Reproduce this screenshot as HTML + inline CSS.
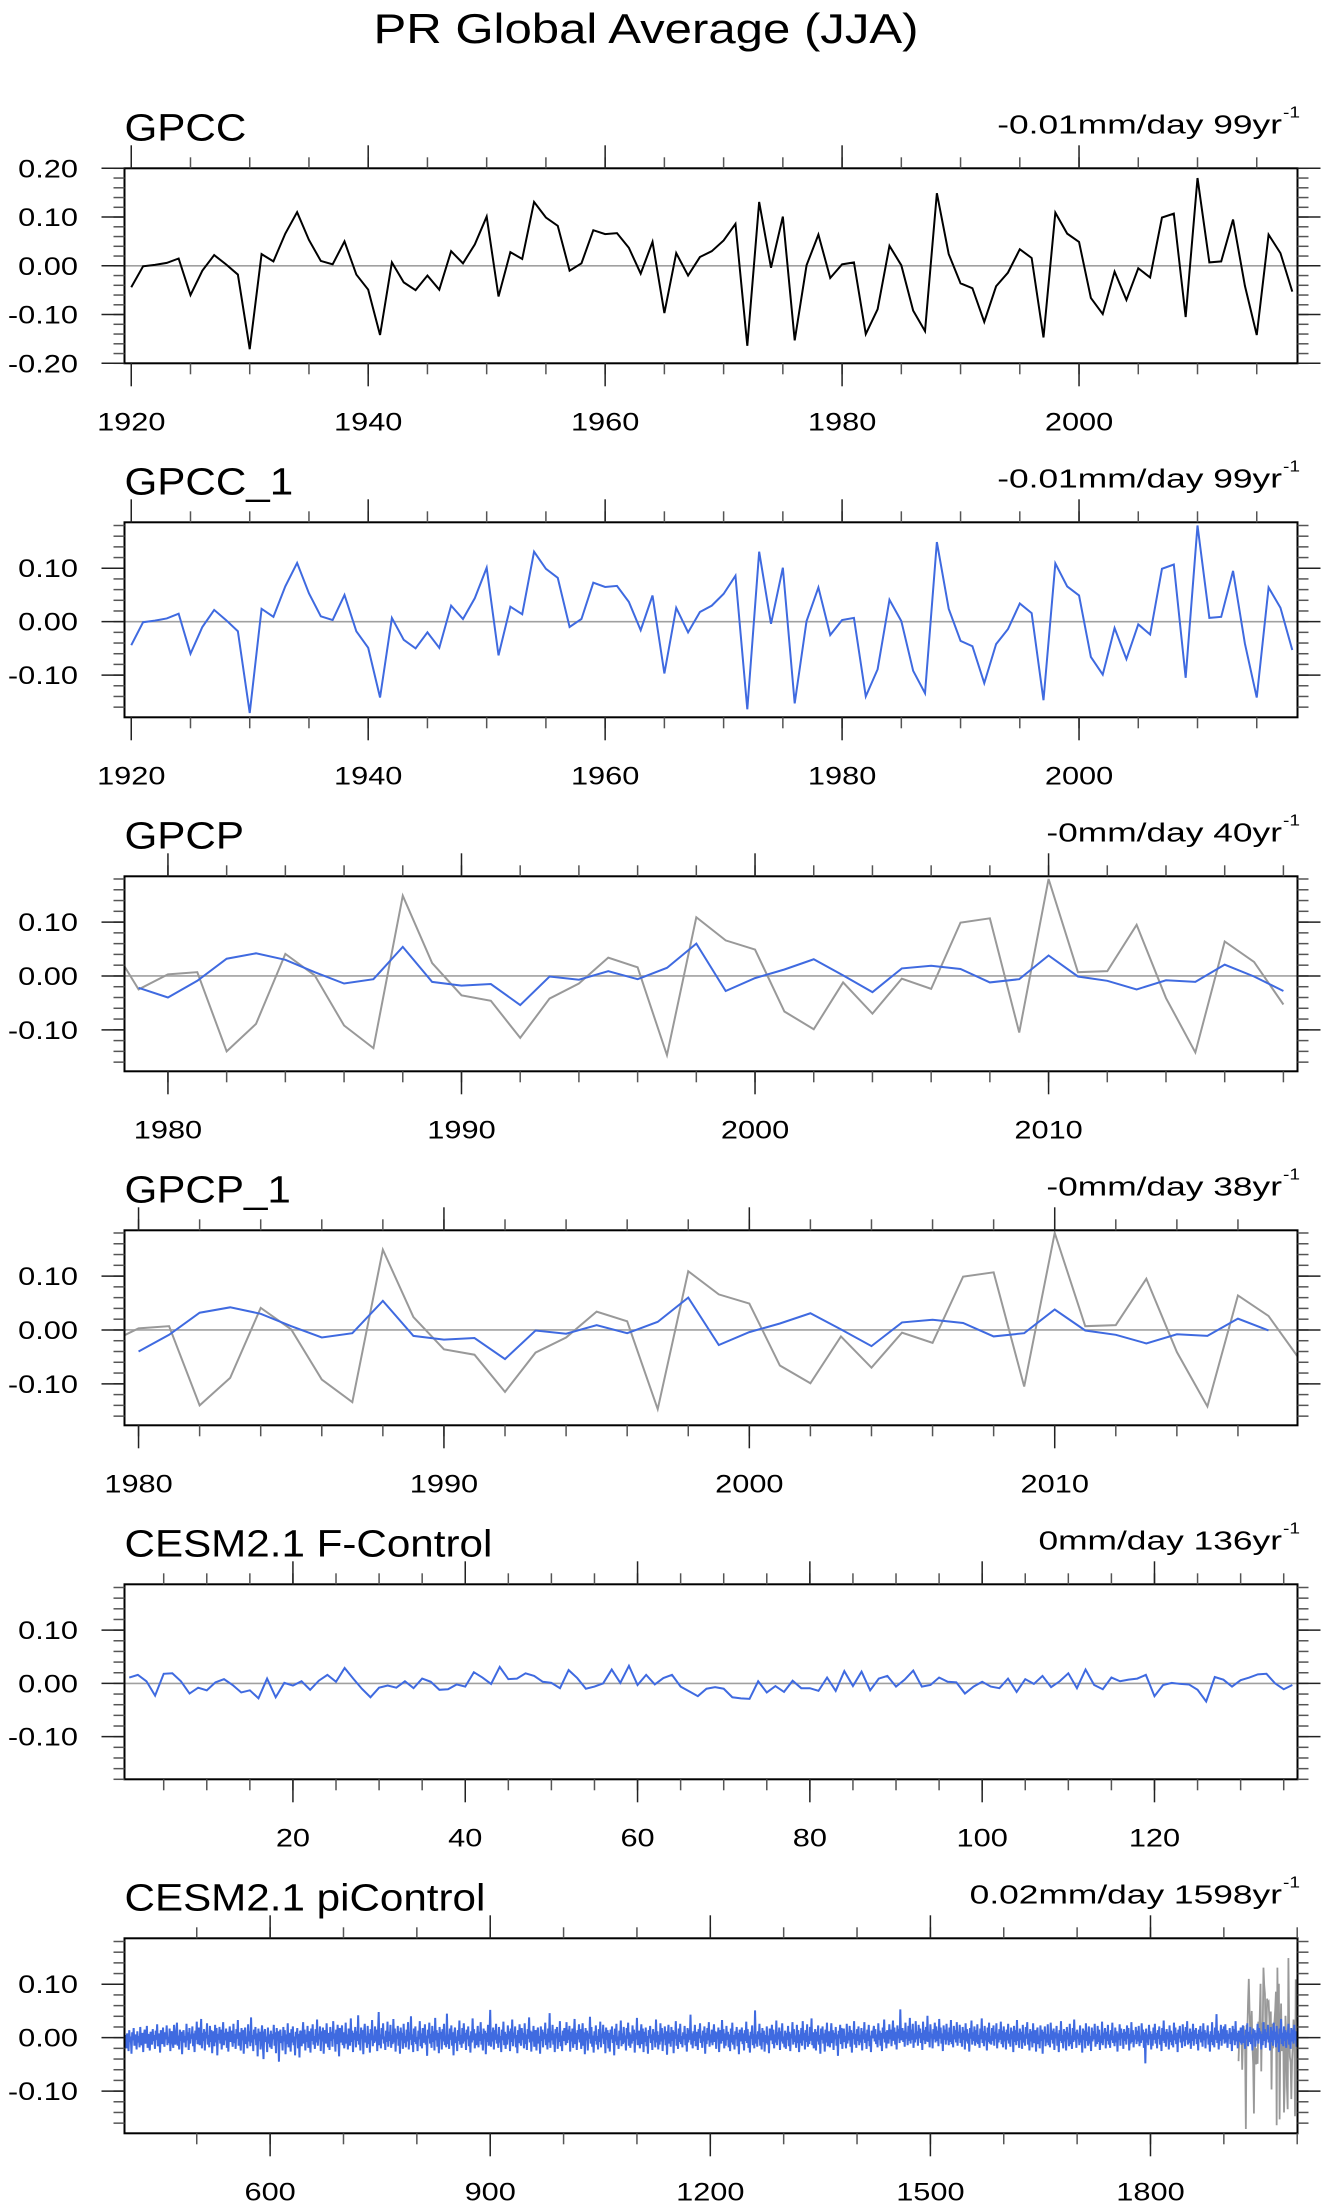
<!DOCTYPE html>
<html><head><meta charset="utf-8"><title>PR Global Average (JJA)</title>
<style>html,body{margin:0;padding:0;background:#fff}svg{display:block}text{font-family:"Liberation Sans",Arial,sans-serif;fill:#000}</style>
</head><body>
<svg id="chart" width="1330" height="2212" viewBox="0 0 1330 2212" xmlns="http://www.w3.org/2000/svg">
<rect x="0" y="0" width="1330" height="2212" fill="#fff"/>
<text transform="translate(646,43) scale(1.17,1)" text-anchor="middle" font-size="42">PR Global Average (JJA)</text>
</svg>
<script>
// ---- data ----
const gpccStartYear = 1920;
const gpccValues = [-0.044,-0.001,0.002,0.006,0.015,-0.060,-0.010,0.022,0.003,-0.018,
-0.171,0.024,0.009,0.066,0.110,0.053,0.010,0.003,0.050,-0.018,
-0.049,-0.142,0.007,-0.034,-0.050,-0.020,-0.049,0.030,0.005,0.044,
0.101,-0.063,0.028,0.014,0.131,0.099,0.082,-0.010,0.005,0.073,
0.065,0.067,0.037,-0.016,0.049,-0.097,0.026,-0.020,0.018,0.030,
0.052,0.086,-0.164,0.131,-0.004,0.101,-0.153,0.001,0.064,-0.025,
0.003,0.007,-0.140,-0.089,0.041,0.001,-0.092,-0.134,0.149,0.024,
-0.036,-0.046,-0.115,-0.042,-0.014,0.034,0.016,-0.147,0.109,0.066,
0.049,-0.066,-0.099,-0.012,-0.070,-0.005,-0.024,0.099,0.107,-0.105,
0.180,0.007,0.009,0.095,-0.041,-0.142,0.064,0.026,-0.053];
const gpcpStartYear = 1979;
const gpcpValues = [-0.022,-0.040,-0.009,0.032,0.042,0.030,0.007,-0.014,-0.006,0.054,
-0.011,-0.018,-0.015,-0.054,-0.001,-0.007,0.009,-0.006,0.015,0.060,
-0.028,-0.004,0.012,0.031,0.001,-0.030,0.014,0.019,0.013,-0.012,
-0.006,0.038,-0.001,-0.009,-0.025,-0.008,-0.011,0.021,-0.001,-0.028];
const gpcp1StartYear = 1980;
const gpcp1Values = [-0.040,-0.009,0.032,0.042,0.030,0.007,-0.014,-0.006,0.054,
-0.011,-0.018,-0.015,-0.054,-0.001,-0.007,0.009,-0.006,0.015,0.060,
-0.028,-0.004,0.012,0.031,0.001,-0.030,0.014,0.019,0.013,-0.012,
-0.006,0.038,-0.001,-0.009,-0.025,-0.008,-0.011,0.021,-0.001];
const fcontrolStartYear = 1;
const fcontrolValues = [0.011,0.016,0.004,-0.023,0.018,0.019,0.004,-0.019,-0.008,-0.013,
0.002,0.008,-0.003,-0.017,-0.013,-0.028,0.009,-0.026,0.001,-0.004,
0.004,-0.012,0.005,0.016,0.003,0.029,0.009,-0.010,-0.026,-0.008,
-0.004,-0.008,0.004,-0.009,0.009,0.003,-0.012,-0.011,-0.002,-0.006,
0.021,0.011,-0.001,0.031,0.008,0.009,0.019,0.014,0.003,0.001,
-0.009,0.025,0.010,-0.010,-0.006,0.000,0.026,0.001,0.033,-0.003,
0.016,-0.002,0.010,0.016,-0.006,-0.015,-0.024,-0.010,-0.007,-0.010,
-0.026,-0.028,-0.029,0.004,-0.017,-0.005,-0.016,0.005,-0.009,-0.009,
-0.014,0.011,-0.014,0.023,-0.005,0.022,-0.013,0.009,0.014,-0.006,
0.007,0.024,-0.006,-0.003,0.011,0.003,0.002,-0.019,-0.006,0.003,
-0.006,-0.009,0.009,-0.016,0.008,-0.001,0.014,-0.007,0.004,0.019,
-0.009,0.026,-0.003,-0.011,0.011,0.004,0.007,0.009,0.016,-0.024,
-0.003,0.001,-0.001,-0.002,-0.012,-0.034,0.012,0.007,-0.006,0.006,
0.011,0.017,0.018,0.000,-0.011,-0.003];
const picontrolStartYear = 402;
// values in 0.001 mm/day
const picontrolMilli = [
-12,5,-20,8,-3,-25,14,-8,2,-30,10,-5,18,-15,-2,6,-22,12,-9,3,
-18,20,-6,-14,9,-27,4,15,-11,-3,22,-19,7,-8,-24,11,0,-13,16,-6,
5,-21,13,-4,25,-16,-9,8,-28,14,2,-12,19,-7,-17,10,-3,23,-14,1,
-10,17,-25,6,12,-8,-19,24,-2,-13,9,28,-15,4,-22,15,-6,11,-31,7,
14,-9,3,-18,26,-5,10,-23,18,-11,6,-2,21,-16,8,-27,13,-4,30,-12,
-7,19,-14,2,35,-20,9,-6,16,-24,11,-1,27,-13,5,-18,22,-8,14,-29,
3,12,-16,24,-9,18,-33,7,-4,20,-11,15,-22,6,29,-14,9,-5,17,-19,
11,-26,4,21,-8,13,-3,-17,26,-10,7,-21,16,-2,33,-15,10,-6,-24,18,
-5,14,-30,9,19,-12,2,-20,25,-7,12,-16,38,-9,5,-25,15,-3,20,-14,
8,-35,17,-6,11,-22,4,23,-13,-40,9,16,-8,2,-27,19,-11,6,-18,13,
-21,7,-3,24,-15,10,-29,18,-5,12,-45,8,15,-10,3,-24,20,-7,14,-31,
6,-12,27,-18,9,-4,-26,16,-9,21,-14,2,-33,11,-1,18,-20,7,-37,13,
10,-16,4,29,-11,15,-24,6,-8,22,-19,12,-2,-28,17,-6,25,-13,3,-21,
16,-9,34,-15,7,-3,21,-25,12,-7,19,-30,5,14,-11,27,-4,-18,9,-23,
20,-6,11,-17,31,-2,8,-26,15,-12,24,-5,-35,18,-9,4,23,-14,10,-20,
-3,28,-11,6,-22,17,1,-15,36,-8,13,-27,9,-4,20,-18,12,-6,42,-13,
7,-24,19,-2,14,-31,10,26,-9,3,-19,22,-12,8,-28,16,-5,33,-16,4,
-10,21,-7,15,-25,9,48,-14,6,-20,18,-3,27,-11,2,-23,13,-8,30,-17,
11,-6,24,-19,5,-12,35,-9,17,-26,8,-2,22,-15,12,-30,19,-5,9,-21,
26,-10,3,-18,15,-7,29,-22,10,-4,40,-14,6,-27,17,-8,21,-12,1,-25,
13,-3,31,-16,8,-20,18,-9,-6,25,-13,4,-34,15,-1,28,-11,7,-19,22,
-8,12,-24,37,-5,14,-17,9,-29,20,-2,11,-22,16,-7,26,-14,3,-18,45,
-12,6,-21,17,-4,23,-15,10,-33,8,19,-10,2,-25,14,-6,32,-13,5,-19,
18,-11,27,-7,9,-23,15,-3,21,-16,4,-28,12,-9,36,-5,16,-20,8,-14,
3,22,-18,11,-6,29,-13,7,-24,17,-2,13,-31,9,-8,24,-15,5,52,-17,
10,-7,19,-22,14,-4,26,-11,6,-19,20,-9,3,-27,15,-5,30,-14,11,-21,
7,-13,23,-3,12,-25,17,-8,34,-16,9,-1,21,-18,5,-29,14,-10,25,-6,
-15,18,-4,9,-20,27,-12,6,-23,16,-2,38,-9,13,-26,11,-7,22,-17,4,
14,-24,8,19,-11,3,-30,21,-6,15,-18,10,-3,28,-14,7,-22,17,-9,46,
-19,12,-5,24,-13,8,-27,16,-1,20,-21,9,-8,31,-16,4,-25,13,-6,18,
2,-14,29,-10,15,-4,22,-26,11,-7,17,-19,5,35,-12,9,-23,14,-3,25,
-9,16,-21,6,27,-15,10,-31,18,-5,13,-24,8,-2,39,-11,20,-17,4,-28,
12,-6,23,-13,3,-22,16,-8,30,-18,7,-1,24,-12,11,-29,19,-4,14,-20,
9,-26,15,-3,21,-10,5,-33,17,-7,26,-14,2,-21,13,-5,32,-16,8,-12,
20,-9,4,-24,18,-2,28,-15,10,-19,6,-11,23,-6,15,-28,9,-3,37,-14,
-4,13,-20,7,25,-12,17,-27,11,-8,19,-16,3,-30,14,-1,22,-10,6,-23,
16,-5,10,-18,34,-9,12,-22,5,-13,27,-7,18,-25,8,-3,21,-14,12,-32,
4,24,-11,9,-17,20,-6,14,-29,11,-2,31,-15,6,-21,17,-8,26,-12,3,
-18,10,-3,22,-14,7,-26,18,-9,15,-4,43,-13,8,-20,12,-6,24,-16,5,
11,-23,16,-1,27,-10,4,-19,13,-7,21,-30,9,-12,18,-5,29,-17,6,-9,
15,-14,3,25,-8,12,-21,10,-2,19,-27,7,14,-11,33,-6,16,-20,8,-15,
22,-4,11,-18,6,-25,17,-9,28,-13,5,-22,12,-3,20,-16,9,-31,15,-7,
3,19,-12,8,-24,14,-6,30,-10,16,-19,4,-28,11,-2,23,-14,7,-20,51,
-11,6,-17,12,-3,26,-15,9,-22,18,-8,13,-26,5,-10,21,-13,4,-29,17,
8,-5,24,-12,15,-20,6,-9,32,-14,10,-3,19,-23,12,-7,27,-11,2,-18,
13,-21,9,-4,22,-16,11,-25,7,-1,29,-13,16,-8,4,-19,24,-10,14,-27,
6,-10,18,-15,31,-5,9,-22,14,-8,25,-17,3,-12,20,-6,36,-14,10,-20,
-2,16,-24,11,-7,23,-13,5,-30,17,-4,21,-11,8,-26,15,-9,28,-16,4,
12,-18,7,27,-10,14,-23,9,-3,20,-15,6,-34,13,-1,24,-12,18,-21,8,
17,-8,3,-20,26,-11,10,-5,22,-17,14,-28,9,-2,31,-13,7,-19,16,-6,
21,-14,5,-9,18,-24,12,-3,29,-10,8,-21,15,-6,24,-16,4,-27,13,-1,
10,22,-7,16,-12,6,-18,27,-4,13,-15,9,-25,19,-2,34,-9,11,-20,14,
5,-11,25,-3,15,-16,8,32,-6,19,-13,11,-22,23,-1,16,-10,53,-5,9,
18,-8,13,-17,28,-2,10,-14,22,-6,37,-11,15,-4,26,-19,8,-9,31,-3,
12,-15,24,-1,17,-10,9,-23,30,-5,14,-12,20,-7,41,-8,11,-18,25,2,
7,-20,16,-3,28,-9,21,-6,13,-16,35,-2,19,-11,8,-25,23,-4,15,-13,
26,-5,10,-14,19,-8,33,-12,6,-18,22,-3,14,-9,29,-15,11,-1,24,-10,
9,-17,20,-4,13,-22,27,-7,16,-11,8,-26,18,-2,32,-13,10,-6,21,-15,
14,-9,25,-12,5,-19,17,-3,36,-10,12,-16,22,-5,9,-24,19,-8,28,-11,
3,-13,18,-6,23,-15,11,-2,27,-20,8,-9,16,-4,30,-12,13,-18,21,-7,
10,-22,15,-5,26,-11,7,-17,19,-3,12,-27,22,-8,14,-14,33,-6,9,-19,
17,-4,11,-21,24,-9,6,-15,20,-2,29,-13,8,-24,16,-7,12,-18,27,-5,
-10,14,-26,9,19,-12,4,-20,23,-6,15,-30,11,-3,21,-16,7,-9,25,-14,
6,-18,28,-4,13,-11,17,-23,10,-1,22,-15,8,-27,14,-6,31,-10,5,-20,
16,-7,12,-24,20,-3,9,-16,26,-12,4,-21,18,-8,34,-5,11,-19,15,-2,
8,-14,23,-9,5,-28,17,-4,13,-20,27,-6,10,-15,21,-11,3,-25,19,-7,
12,-3,26,-17,7,-12,22,-8,15,-23,4,-10,30,-14,9,-2,18,-20,11,-6,
24,-13,6,-19,14,-5,28,-10,3,-16,19,-9,12,-26,8,-4,25,-15,17,-1,
9,-21,16,-6,11,-13,23,-2,18,-24,7,-11,29,-8,14,-18,5,-3,20,-12,
13,-7,22,-16,4,-10,27,-5,15,-19,10,-48,17,-9,6,-14,24,-3,12,-22,
7,-15,19,-4,26,-11,9,-20,14,-2,21,-13,5,-25,18,-6,32,-10,11,-17,
16,-3,10,-22,23,-8,13,-14,6,-18,28,-5,19,-12,9,-27,15,-1,22,-9,
4,-19,25,-7,12,-16,20,-4,31,-13,8,-10,17,-21,11,-6,26,-15,14,-2,
18,-12,7,-24,15,-3,22,-9,11,-17,27,-5,14,-20,9,-1,23,-13,6,-26,
12,-8,29,-14,5,-18,19,-4,44,-10,13,-22,8,-6,24,-15,16,-3,21,-11,
25,-9,14,-19,7,-2,18,-12,10,-25,22,-5,16,-14,31,-7,9,-20,13,-4,
-6,19,-13,8,23,-10,4,-21,15,-3,27,-16,11,-8,20,-12,6,-24,17,-1,
14,-17,9,-5,26,-11,18,-2,12,-22,7,-14,29,-6,16,-19,10,-3,24,-9,
3,-24,20,-8,13,-15,28,-4,11,-18,22,-10,6,-27,17,-2,35,-12,9,-16,
21,-6,14,-19,10,-3,26,-13,8,-21,18,-7,15,-11,24,-5,12,-17];

// ---- tick labels ----
const yTicksWide = [0.2, 0.1, 0, -0.1, -0.2];
const yTickLabelsWide = ['0.20','0.10','0.00','-0.10','-0.20'];
const yTicksNarrow = [0.1, 0, -0.1];
const yTickLabelsNarrow = ['0.10','0.00','-0.10'];
const xTicksGpcc = [1920, 1940, 1960, 1980, 2000];
const xTickLabelsGpcc = ['1920','1940','1960','1980','2000'];
const xTicksGpcp = [1980, 1990, 2000, 2010];
const xTickLabelsGpcp = ['1980','1990','2000','2010'];
const xTicksFc = [20, 40, 60, 80, 100, 120];
const xTickLabelsFc = ['20','40','60','80','100','120'];
const xTicksPi = [600, 900, 1200, 1500, 1800];
const xTickLabelsPi = ['600','900','1200','1500','1800'];
const panelTitles = ['GPCC','GPCC_1','GPCP','GPCP_1','CESM2.1 F-Control','CESM2.1 piControl'];
const trendLabels = ['-0.01mm/day 99yr','-0.01mm/day 99yr','-0mm/day 40yr','-0mm/day 38yr','0mm/day 136yr','0.02mm/day 1598yr'];

const NS = 'http://www.w3.org/2000/svg';
const svg = document.getElementById('chart');
const BOX_L = 124.5, BOX_R = 1297.5, BOX_H = 195;
const BLUE = '#3f6ae0', GRAY = '#999999';

function mk(tag, attrs, parent) {
  const e = document.createElementNS(NS, tag);
  for (const k in attrs) e.setAttribute(k, attrs[k]);
  (parent || svg).appendChild(e);
  return e;
}
function label(parent, x, y, str, size, anchor, sx) {
  const t = mk('text', {transform: 'translate(' + x + ',' + y + ') scale(' + sx + ',1)', 'font-size': size, 'text-anchor': anchor}, parent);
  t.textContent = str;
  return t;
}

const panels = [
  {xMin:1919.43, xMax:2018.44, yMin:-0.2, yMax:0.2, yT:yTicksWide, yL:yTickLabelsWide, xT:xTicksGpcc, xL:xTickLabelsGpcc, minor:5,
   series:[{start:gpccStartYear, vals:gpccValues, color:'#000', w:2, name:'gpcc-line'}]},
  {xMin:1919.43, xMax:2018.44, yMin:-0.179, yMax:0.186, yT:yTicksNarrow, yL:yTickLabelsNarrow, xT:xTicksGpcc, xL:xTickLabelsGpcc, minor:5,
   series:[{start:gpccStartYear, vals:gpccValues, color:BLUE, w:2, name:'gpcc-1-line'}]},
  {xMin:1978.52, xMax:2018.48, yMin:-0.177, yMax:0.185, yT:yTicksNarrow, yL:yTickLabelsNarrow, xT:xTicksGpcp, xL:xTickLabelsGpcp, minor:2,
   series:[{start:gpccStartYear, vals:gpccValues, color:GRAY, w:2, name:'gpcc-reference-line'},
           {start:gpcpStartYear, vals:gpcpValues, color:BLUE, w:2, name:'gpcp-line'}]},
  {xMin:1979.54, xMax:2017.95, yMin:-0.177, yMax:0.185, yT:yTicksNarrow, yL:yTickLabelsNarrow, xT:xTicksGpcp, xL:xTickLabelsGpcp, minor:2,
   series:[{start:gpccStartYear, vals:gpccValues, color:GRAY, w:2, name:'gpcc-reference-line'},
           {start:gpcp1StartYear, vals:gpcp1Values, color:BLUE, w:2, name:'gpcp-1-line'}]},
  {xMin:0.45, xMax:136.6, yMin:-0.18, yMax:0.186, yT:yTicksNarrow, yL:yTickLabelsNarrow, xT:xTicksFc, xL:xTickLabelsFc, minor:5,
   series:[{start:fcontrolStartYear, vals:fcontrolValues, color:BLUE, w:2, name:'f-control-line'}]},
  {xMin:401.5, xMax:2000.4, yMin:-0.179, yMax:0.186, yT:yTicksNarrow, yL:yTickLabelsNarrow, xT:xTicksPi, xL:xTickLabelsPi, minor:100,
   series:[{start:gpccStartYear, vals:gpccValues, color:GRAY, w:1.8, name:'gpcc-reference-line'},
           {start:picontrolStartYear, vals:picontrolMilli.map(v => v / 1000), color:BLUE, w:2, name:'picontrol-line'}]}
];

panels.forEach((p, i) => {
  const top = 168.3 + i * 354;
  const bot = top + BOX_H;
  const g = mk('g', {});
  
  
  const xs = v => BOX_L + (v - p.xMin) / (p.xMax - p.xMin) * (BOX_R - BOX_L);
  const ys = v => bot - (v - p.yMin) / (p.yMax - p.yMin) * BOX_H;

  const t1 = label(g, BOX_L, top - 28, panelTitles[i], 38, 'start', 1.11);
  
  
  const t2 = label(g, 1282, top - 35, trendLabels[i], 26, 'end', 1.36);
  
  
  const t3 = label(g, 1283, top - 51, '-1', 16, 'start', 1.2);
  
  

  const cp = mk('clipPath', {id: 'clip' + i}, g);
  mk('rect', {x: BOX_L, y: top, width: BOX_R - BOX_L, height: BOX_H}, cp);

  const z = mk('line', {x1: BOX_L, x2: BOX_R, y1: ys(0), y2: ys(0), stroke: '#a0a0a0', 'stroke-width': 1.6}, g);
  
  

  p.series.forEach(s => {
    let d = '';
    s.vals.forEach((v, k) => { d += (k ? 'L' : 'M') + xs(s.start + k).toFixed(2) + ',' + ys(v).toFixed(2); });
    const path = mk('path', {d: d, fill: 'none', stroke: s.color, 'stroke-width': s.w, 'stroke-linejoin': 'miter', 'clip-path': 'url(#clip' + i + ')'}, g);
    
    
  });

  const box = mk('rect', {x: BOX_L, y: top, width: BOX_R - BOX_L, height: BOX_H, fill: 'none', stroke: '#000', 'stroke-width': 2}, g);
  
  

  const tk = mk('g', {stroke: '#222', 'stroke-width': 1.5}, g);
  
  
  for (let v = Math.ceil(p.yMin / 0.02 - 1e-6) * 0.02; v <= p.yMax + 1e-9; v += 0.02) {
    const y = ys(v);
    mk('line', {x1: BOX_L - 11, x2: BOX_L, y1: y, y2: y, stroke: '#555'}, tk);
    mk('line', {x1: BOX_R, x2: BOX_R + 11, y1: y, y2: y, stroke: '#555'}, tk);
  }
  p.yT.forEach((v, k) => {
    const y = ys(v);
    mk('line', {x1: BOX_L - 23, x2: BOX_L, y1: y, y2: y}, tk);
    mk('line', {x1: BOX_R, x2: BOX_R + 23, y1: y, y2: y}, tk);
    const lb = label(g, 78, y + 9, p.yL[k], 25, 'end', 1.23);
    
    
  });
  for (let v = Math.ceil(p.xMin / p.minor) * p.minor; v <= p.xMax; v += p.minor) {
    const x = xs(v);
    mk('line', {x1: x, x2: x, y1: top - 11, y2: top, stroke: '#555'}, tk);
    mk('line', {x1: x, x2: x, y1: bot, y2: bot + 11, stroke: '#555'}, tk);
  }
  p.xT.forEach((v, k) => {
    const x = xs(v);
    mk('line', {x1: x, x2: x, y1: top - 23, y2: top}, tk);
    mk('line', {x1: x, x2: x, y1: bot, y2: bot + 23}, tk);
    const lb = label(g, x, bot + 67, p.xL[k], 25, 'middle', 1.23);
    
    
  });
});
</script>
</body></html>
